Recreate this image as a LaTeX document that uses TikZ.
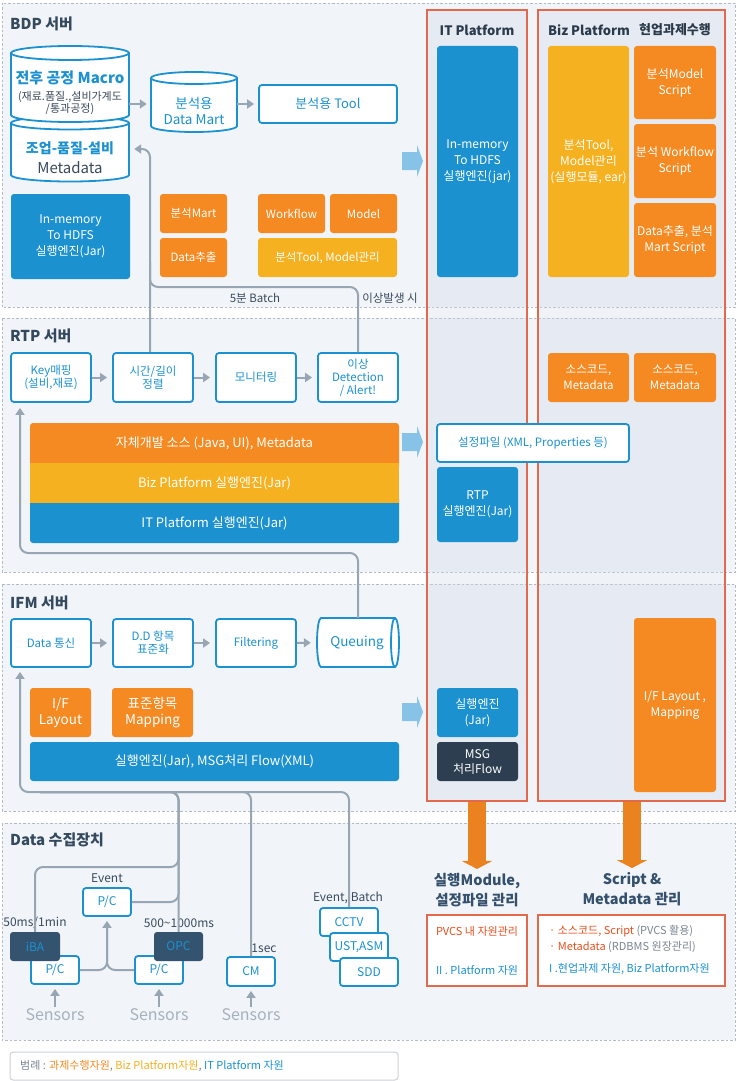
\documentclass[tikz,border=0pt]{standalone}
\usepackage{fontspec}
\setmainfont{Noto Sans CJK KR}
\usetikzlibrary{arrows.meta,calc}

\definecolor{cblue}{HTML}{1C91D0}
\definecolor{corange}{HTML}{F58A22}
\definecolor{corangedk}{HTML}{EA8220}
\definecolor{cyellow}{HTML}{F5B120}
\definecolor{cnavy}{HTML}{34495E}
\definecolor{ctitle}{HTML}{2B3A4B}
\definecolor{ctitletwo}{HTML}{34506C}
\definecolor{cnavybox}{HTML}{34536F}
\definecolor{cdark}{HTML}{2C3E50}
\definecolor{cgray}{HTML}{98A6B4}
\definecolor{cred}{HTML}{E2694B}
\definecolor{credtext}{HTML}{E8501E}
\definecolor{secbg}{HTML}{F1F5F9}
\definecolor{secline}{HTML}{B4BAC1}
\definecolor{colfill}{HTML}{D2DAE8}
\definecolor{clight}{HTML}{87C3E6}
\definecolor{csens}{HTML}{A6B1BC}
\definecolor{ctext}{HTML}{3A4A5C}
\definecolor{cmuted}{HTML}{7A8591}
\definecolor{clegend}{HTML}{CDD2D7}

\newcommand\fsz[2]{\fontsize{#1}{#2}\selectfont}
% vertical cylinder: x-left, x-right, y of top ellipse, y of bottom ellipse, ellipse half-height
\newcommand\vcyl[5]{%
  \pgfmathsetmacro\cylrx{(#2-#1)/2}%
  \filldraw[cylsty] (#1,#3) -- (#1,#4)
    arc[start angle=180, end angle=360, x radius=\cylrx pt, y radius=#5 pt]
    -- (#2,#3)
    arc[start angle=0, end angle=180, x radius=\cylrx pt, y radius=#5 pt] -- cycle;
  \draw[cylsty, fill=none] (#1,#3)
    arc[start angle=180, end angle=360, x radius=\cylrx pt, y radius=#5 pt];
}
% light blue block arrow pointing into the platform columns
\newcommand\sidearrow[1]{%
  \fill[clight] (402,#1-9) -- (417,#1-9) -- (417,#1-16) -- (423,#1)
    -- (417,#1+16) -- (417,#1+9) -- (402,#1+9) -- cycle;
}

\begin{document}
\begin{tikzpicture}[x=1pt, y=-1pt,
  box/.style={rectangle, rounded corners=3pt, inner sep=0pt, align=center},
  wh/.style 2 args={minimum width=#1pt, minimum height=#2pt},
  wbox/.style={box, draw=cblue, line width=1.8pt, fill=white, text=cblue, font=\fsz{11.5}{13}},
  obox/.style={box, fill=corange, text=white, font=\fsz{11.5}{16}},
  ybox/.style={box, fill=cyellow, text=white, font=\fsz{11.5}{16}},
  bbox/.style={box, fill=cblue, text=white, font=\fsz{12}{16}},
  dbox/.style={box, fill=cdark, text=white, font=\fsz{12}{16}},
  nbox/.style={box, fill=cnavybox, text=cblue, font=\fsz{12}{14}},
  bartext/.style={inner sep=0pt, align=center, text=white, font=\fsz{13}{15}},
  cylsty/.style={fill=white, draw=cblue, line width=1.8pt},
  lbl/.style={inner sep=0pt, text=ctext, font=\fsz{12}{14}},
  sectitle/.style={anchor=west, inner sep=0pt, text=cnavy, font=\bfseries\fsz{15}{18}},
  coltitle/.style={inner sep=0pt, text=ctitle, font=\bfseries\fsz{13}{16}},
  col/.style={draw=cred, line width=1.3pt, fill=colfill, fill opacity=0.35, inner sep=0pt},
  rbox/.style={draw=cred, line width=1.3pt, fill=white, inner sep=0pt},
  sec/.style={fill=secbg, draw=secline, line width=0.9pt, dash pattern=on 2.5pt off 2pt},
  gline/.style={draw=cgray, line width=2pt, rounded corners=8pt},
  garr/.style={gline, -{Triangle[width=9pt,length=7pt]}},
  bigarr/.style={draw=corangedk, line width=18pt, -{Triangle[width=30pt,length=8pt]}},
  sens/.style={inner sep=0pt, text=csens, font=\fsz{16}{18}},
]
\fill[white] (0,0) rectangle (736,1081);
\useasboundingbox (0,0) rectangle (736,1081);

% ---------- server sections ----------
\path[sec] (2,3) rectangle (735,307);
\path[sec] (2,318) rectangle (735,572);
\path[sec] (2,584) rectangle (735,811);
\path[sec] (2,823) rectangle (735,1040);

\node[sectitle] (tbdp) at (10,24) {BDP 서버};
\node[sectitle] (trtp) at (10,336) {RTP 서버};
\node[sectitle] (tifm) at (10,603) {IFM 서버};
\node[sectitle] (tdat) at (10,840) {Data 수집장치};

% ---------- platform columns ----------
\node[col, wh={100}{791}] (itcol) at (477,405.5) {};
\node[col, wh={187}{791}] (bizcol) at (631.5,405.5) {};

\sidearrow{161}
\sidearrow{442}
\sidearrow{712}

% ---------- BDP server ----------
\vcyl{11}{129}{123}{175}{6.5}
\vcyl{11}{129}{53}{115}{7}
\vcyl{151}{237}{78}{126}{6}
\node[inner sep=0pt, wh={118}{76}] (cyl1) at (70,84) {};
\node[inner sep=0pt, wh={118}{66}] (cyl2) at (70,149) {};
\node[inner sep=0pt, wh={86}{60}] (dm) at (194,102) {};

\node[inner sep=0pt, text=cblue, font=\bfseries\fsz{15}{18}] (c1a) at (70,78) {전후 공정 Macro};
\node[inner sep=0pt, text=ctext, font=\fsz{11}{12.5}, align=center] (c1b) at (70,103) {(재료.품질.,설비가계도\\/통과공정)};
\node[inner sep=0pt, text=cblue, font=\bfseries\fsz{14}{16}] (c2a) at (70,148) {조업-품질-설비};
\node[inner sep=0pt, text=ctext, font=\fsz{15}{17}] (c2b) at (70,168) {Metadata};
\node[inner sep=0pt, text=cblue, font=\fsz{13.5}{16}, align=center] (dmt) at (194,111) {분석용\\Data Mart};

\node[wbox, wh={138}{38}, font=\fsz{13}{15}] (tool) at (328,104) {분석용 Tool};

\draw[garr, shorten >=4pt] (cyl1.east |- tool.west) -- (dm.west |- tool.west);
\draw[garr, shorten >=4pt] (dm.east |- tool.west) -- (tool.west);

\node[bbox, wh={119}{85}] (inmem) at (70.5,236.5) {In-memory\\To HDFS\\실행엔진(Jar)};
\node[obox, wh={67}{39}] (amart) at (193.5,213.5) {분석Mart};
\node[obox, wh={67}{39}] (dext) at (193.5,257.5) {Data추출};
\node[obox, wh={67}{39}] (wf) at (291.5,213.5) {Workflow};
\node[obox, wh={67}{39}] (model) at (363.5,213.5) {Model};
\node[ybox, wh={139}{39}] (atool) at (327.5,257.5) {분석Tool, Model관리};

% ---------- RTP server ----------
\node[wbox, wh={80}{49}] (km) at (51,377.5) {Key매핑\\(설비,재료)};
\node[wbox, wh={80}{49}] (tg) at (153,377.5) {시간/길이\\정렬};
\node[wbox, wh={80}{49}] (mon) at (256,377.5) {모니터링};
\node[wbox, wh={80}{49}] (ad) at (358,377.5) {이상\\Detection\\/ Alert!};
\draw[garr, shorten >=5pt] (km) -- (tg);
\draw[garr, shorten >=5pt] (tg) -- (mon);
\draw[garr, shorten >=5pt] (mon) -- (ad);

\fill[corange, rounded corners=3pt] (30,423) rectangle (399,470);
\fill[cblue, rounded corners=3pt] (30,496) rectangle (399,543);
\fill[cyellow] (30,463) rectangle (399,503);
\node[bartext, wh={369}{40}] (bar1) at (214.5,443) {자체개발 소스 (Java, UI), Metadata};
\node[bartext, wh={369}{40}] (bar2) at (214.5,483) {Biz Platform 실행엔진(Jar)};
\node[bartext, wh={369}{40}] (bar3) at (214.5,523) {IT Platform 실행엔진(Jar)};

% batch / alert feedback into the metadata store
\coordinate (bj) at (150,287);
\draw[garr, shorten >=5pt] ([xshift=-3pt]tg.north) |- (cyl2.east);
\draw[gline] (ad.north) |- (bj) -- ++(0,-25);
\node[lbl, font=\fsz{11.5}{14}] (lb5) at (255,298) {5분 Batch};
\node[lbl, font=\fsz{11.5}{14}] (lbe) at (390,298) {이상발생 시};

% ---------- IFM server ----------
\node[wbox, wh={80}{48}] (dc) at (51,643) {Data 통신};
\node[wbox, wh={80}{48}] (dd) at (153,643) {D.D 항목\\표준화};
\node[wbox, wh={80}{48}] (flt) at (256,643) {Filtering};
\filldraw[cylsty] (321,618) -- (395,618)
  arc[start angle=90, end angle=-90, x radius=4pt, y radius=24.5pt]
  -- (321,667)
  arc[start angle=270, end angle=90, x radius=4pt, y radius=24.5pt] -- cycle;
\draw[cylsty, fill=none] (395,667)
  arc[start angle=270, end angle=90, x radius=4pt, y radius=24.5pt];
\node[inner sep=0pt, wh={82}{49}, text=cblue, font=\fsz{13.5}{16}] (qu) at (357,642.5) {Queuing};
\draw[garr, shorten >=5pt] (dc) -- (dd);
\draw[garr, shorten >=5pt] (dd) -- (flt);
\draw[garr, shorten >=5pt] (flt) -- (qu);

\node[obox, wh={61}{49}, font=\fsz{13.5}{16}] (ifl) at (60.5,712.5) {I/F\\Layout};
\node[obox, wh={81}{49}, font=\fsz{13.5}{16}] (stm) at (152.5,712.5) {표준항목\\Mapping};
\node[bbox, wh={369}{39}, font=\fsz{13}{15}] (eng) at (214.5,761.5) {실행엔진(Jar), MSG처리 Flow(XML)};

% queue feeds the RTP key mapping
\coordinate (fbr) at (20,553);
\draw[garr, shorten >=5pt] ([xshift=1pt]qu.north) |- (fbr) -- (km.south -| fbr);

% ---------- IT platform column ----------
\node[coltitle] (itt) at (477,30) {IT Platform};
\node[bbox, wh={81}{231}] (itmem) at (477.5,161.5) {In-memory\\To HDFS\\실행엔진(jar)};
\node[wbox, wh={192}{38}, font=\fsz{11.5}{14}] (cfg) at (533,443) {설정파일 (XML, Properties 등)};
\node[bbox, wh={81}{75}] (rtpeng) at (477.5,504.5) {RTP\\실행엔진(Jar)};
\node[bbox, wh={81}{49}] (ifmeng) at (477.5,712.5) {실행엔진\\(Jar)};
\node[dbox, wh={81}{39}, font=\fsz{12}{15}] (msg) at (477.5,761.5) {MSG\\처리Flow};

% ---------- Biz platform column ----------
\node[coltitle] (bizt) at (589,30) {Biz Platform};
\node[coltitle] (hyt) at (675,30) {현업과제수행};
\node[ybox, wh={81}{231}, font=\fsz{12}{16}] (biztool) at (588.5,161.5) {분석Tool,\\Model관리\\(실행모듈, ear)};
\node[obox, wh={82}{73}, font=\fsz{12}{16}] (scr1) at (675,82.5) {분석Model\\Script};
\node[obox, wh={82}{74}, font=\fsz{12}{16}] (scr2) at (675,161) {분석 Workflow\\Script};
\node[obox, wh={82}{74}, font=\fsz{12}{16}] (scr3) at (675,240) {Data추출, 분석\\Mart Script};
\node[obox, wh={81}{49}] (src1) at (588.5,377.5) {소스코드,\\Metadata};
\node[obox, wh={82}{49}] (src2) at (675,377.5) {소스코드,\\Metadata};
\node[obox, wh={82}{174}, font=\fsz{12}{16}] (ifmap) at (675,705) {I/F Layout ,\\Mapping};

% ---------- management summaries ----------
\node[inner sep=0pt, align=center, text=ctitletwo, font=\bfseries\fsz{14.5}{20}] (modt) at (477,890) {실행Module,\\설정파일 관리};
\node[inner sep=0pt, align=center, text=ctitletwo, font=\bfseries\fsz{14.5}{20}] (scrt) at (632,889) {Script \&\\Metadata 관리};
\draw[bigarr, shorten >=4pt] (itcol.south) -- (modt.north);
\draw[bigarr, shorten >=4pt] (bizcol.south -| scrt.north) -- (scrt.north);

\node[rbox, wh={100}{71}] (pvcs) at (477,950.5) {};
\node[inner sep=0pt, text=credtext, font=\fsz{11}{13}] (pv1) at (477,931) {PVCS 내 자원관리};
\node[inner sep=0pt, text=cblue, font=\fsz{11}{13}] (pv2) at (477,970) {II . Platform 자원};
\node[rbox, wh={187}{71}] (scrb) at (631.5,950.5) {};
\node[anchor=west, inner sep=0pt, text=credtext, font=\fsz{11}{13}] (sr1) at (549,931) {· 소스코드, Script {\color{cmuted}(PVCS 활용)}};
\node[anchor=west, inner sep=0pt, text=credtext, font=\fsz{11}{13}] (sr2) at (549,947) {· Metadata {\color{cmuted}(RDBMS 원장관리)}};
\node[anchor=west, inner sep=0pt, text=cblue, font=\fsz{11}{13}] (sr3) at (549,969) {I .현업과제 자원, Biz Platform자원};

% ---------- data collection devices ----------
\node[wbox, wh={48}{28}, font=\fsz{12}{14}] (pce) at (107,902) {P/C};
\node[wbox, wh={48}{28}, font=\fsz{12}{14}] (pcl) at (55,970) {P/C};
\node[wbox, wh={48}{28}, font=\fsz{12}{14}] (pcr) at (159,970) {P/C};
\node[nbox, wh={50}{29}] (iba) at (35,946.5) {iBA};
\node[nbox, wh={49}{29}] (opc) at (178.5,946.5) {OPC};
\node[wbox, wh={48}{29}, font=\fsz{12}{14}] (cm) at (251,971.5) {CM};
\node[wbox, wh={58}{28}, font=\fsz{12}{14}] (cctv) at (349,922) {CCTV};
\node[wbox, wh={58}{28}, font=\fsz{12}{14}] (ust) at (359,947) {UST,ASM};
\node[wbox, wh={58}{28}, font=\fsz{12}{14}] (sdd) at (369,972) {SDD};

\node[lbl] (lev) at (107,878) {Event};
\node[lbl] (l50) at (35,923) {50ms/1min};
\node[lbl] (l500) at (179,923) {500\textasciitilde1000ms};
\node[lbl] (l1s) at (264,948) {1sec};
\node[lbl] (leb) at (348,898) {Event, Batch};

\node[sens] (sn1) at (55,1015) {Sensors};
\node[sens] (sn2) at (159,1015) {Sensors};
\node[sens] (sn3) at (251,1015) {Sensors};
\draw[garr, shorten >=4pt, shorten <=2pt] (sn1.north) -- (pcl.south);
\draw[garr, shorten >=4pt, shorten <=2pt] (sn2.north) -- (pcr.south);
\draw[garr, shorten >=4pt, shorten <=2pt] (sn3.north) -- (cm.south);

\draw[garr, shorten >=4pt] (pcl.east) -| (pce.south);
\draw[gline, shorten >=11pt] (pcr.west) -| (pce.south);

% collected data goes up to the IFM data link
\coordinate (fbi) at (20,792);
\coordinate (fbj) at (40,792);
\draw[gline] (iba.north) |- (178.5,867) |- (fbj);
\draw[gline] (pce.east) -| (178.5,792) -- (fbj);
\draw[gline] (cm.north) |- (fbj);
\draw[gline] (cctv.north) |- (fbj);
\draw[garr, shorten >=4pt] (opc.north) |- (fbi) -- (dc.south -| fbi);

% ---------- legend ----------
\node[draw=clegend, line width=1pt, fill=white, rounded corners=3pt, inner sep=0pt, wh={388}{28}] (leg) at (204,1066) {};
\node[anchor=west, inner sep=0pt, font=\fsz{11}{13}, text=cmuted] (legt) at (20,1066) {범례 : {\color{corange}과제수행자원}, {\color{cyellow}Biz Platform자원}, {\color{cblue}IT Platform 자원}};
\end{tikzpicture}
\end{document}
